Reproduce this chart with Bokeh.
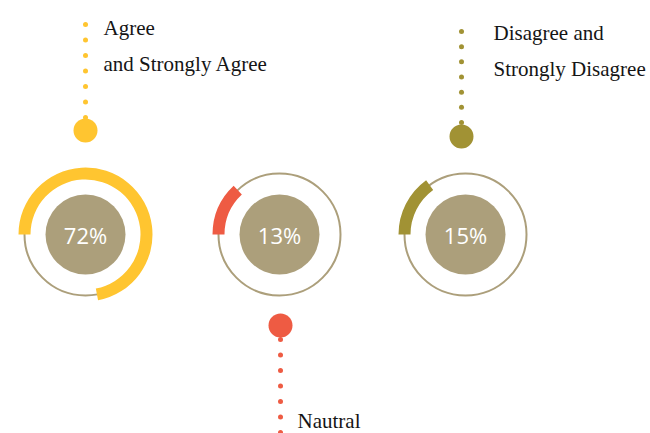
import numpy as np
from bokeh.plotting import figure
from bokeh.models import Range1d, ColumnDataSource
from bokeh.core.properties import value
from bokeh.embed import file_html
from bokeh.resources import INLINE

# ---- data ----
categories = ["Agree and Strongly Agree", "Nautral", "Disagree and Strongly Disagree"]
percent = [72, 13, 15]
label_lines = [["Agree", "and Strongly Agree"], ["Nautral"], ["Disagree and", "Strongly Disagree"]]
colors = ["#FFC530", "#EE5B43", "#A19234"]

# ---- layout (reference pixel space) ----
TAN = "#AC9F7B"
W, H = 650, 433
cx = [85, 279, 465]
cy = 234
pin_x = [85, 280, 461]
pin_circle_y = [130, 325, 136]
pin_dots = [(24, 117), (339, 432), (31, 122)]
label_x = [103, 297, 493]
label_y = [[27, 63], [420], [32, 68]]


def Y(y):
    return H - y


p = figure(width=650, height=433, x_range=Range1d(0, W), y_range=Range1d(0, H),
           output_backend="svg", toolbar_location=None, min_border=0,
           x_axis_type=None, y_axis_type=None)
p.grid.visible = False
p.outline_line_color = None
p.background_fill_color = "white"
p.border_fill_color = "white"

src = ColumnDataSource(dict(
    x=cx, y=[Y(cy)] * 3,
    start=[np.pi] * 3,
    end=[np.pi - v / 100 * 2 * np.pi for v in percent],
    color=colors,
    label=[f"{v}%" for v in percent],
))

# thin ring
p.circle(x="x", y="y", radius=61, source=src, fill_color=None,
         line_color=TAN, line_width=2)
# value arc
p.annular_wedge(x="x", y="y", inner_radius=55, outer_radius=67,
                start_angle="start", end_angle="end", direction="clock",
                fill_color="color", line_color=None, source=src)
# inner disc
p.circle(x="x", y="y", radius=40, source=src, fill_color=TAN, line_color=None)
p.text(x="x", y="y", text="label", source=src, text_color="white",
       text_font=value("Open Sans"), text_font_size="22px",
       text_align="center", text_baseline="middle")

# pins
for i in range(3):
    y0, y1 = pin_dots[i]
    ys = np.linspace(y0, y1, 7)
    p.scatter(x=[pin_x[i]] * len(ys), y=[Y(v) for v in ys], size=5,
              fill_color=colors[i], line_color=None)
    p.circle(x=[pin_x[i]], y=[Y(pin_circle_y[i])], radius=12,
             fill_color=colors[i], line_color=None)
    p.text(x=[label_x[i]] * len(label_lines[i]), y=[Y(v) for v in label_y[i]],
           text=label_lines[i], text_color="#151515",
           text_font=value("Liberation Serif"), text_font_size="21px",
           text_align="left", text_baseline="middle")

open("out.html", "w").write(file_html(p, INLINE))
